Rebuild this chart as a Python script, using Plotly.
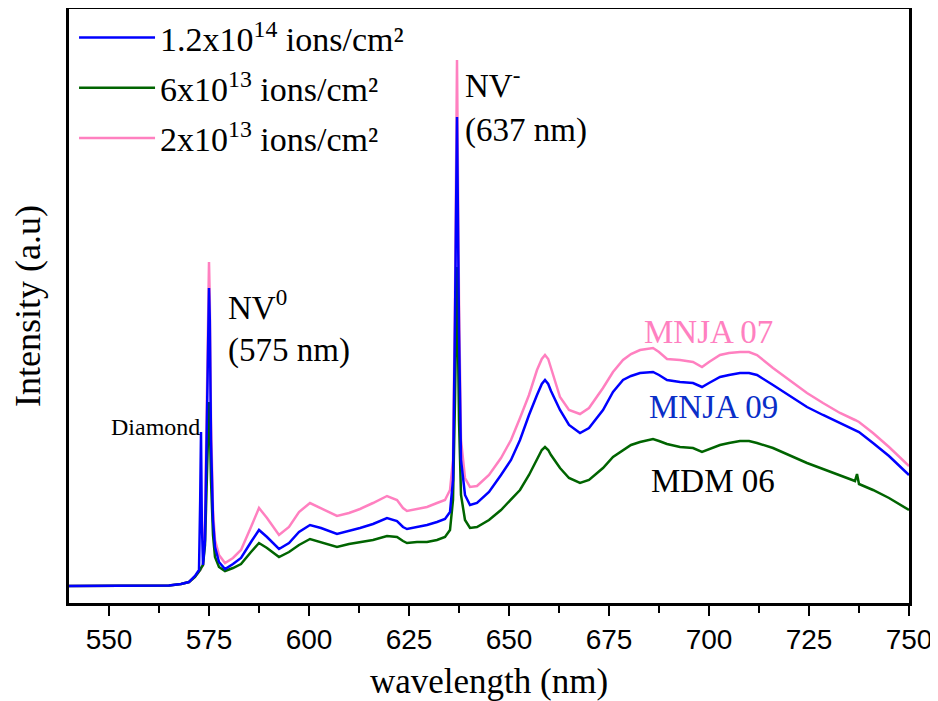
import plotly.graph_objects as go

wavelength = [540, 550, 560, 565, 568, 570, 571.5, 572.5, 572.8, 573.0, 573.2, 573.5,
              574.0, 574.5, 574.8, 575.0, 575.2, 575.5, 576.0, 576.5, 577.5, 579, 581, 583,
              585.5, 587.5, 589.5, 592.5, 595, 597.5, 600.25, 603, 607, 610, 612.75, 616,
              619.5, 622, 623.5, 624.5, 627, 629.5, 632, 634, 635.25, 636.0, 636.5, 637.0,
              637.5, 638.0, 639, 640.25, 642, 645, 648, 650.5, 652.75, 655, 657, 658.2, 659,
              659.8, 660.5, 661.5, 662.75, 665, 667.75, 670, 673.5, 676, 678.5, 680.5, 682.75,
              686, 687.5, 689.5, 692.75, 696, 698.25, 700, 702.75, 705, 707.75, 710, 712, 716,
              720, 724.5, 728.5, 732.75, 736.5, 737, 737.5, 741, 745, 750]

pink_2e13 = [17, 17, 17, 17.5, 19, 21, 26, 31, 33, 34, 36, 38,
             83, 223, 303, 341, 303, 183, 93, 63, 48, 40, 45, 53,
             76, 95, 85, 68, 76, 91, 100, 95, 87, 90, 94, 100,
             107, 103, 95, 92, 94, 96, 100, 103, 113, 143, 303, 543,
             303, 163, 125, 116, 117, 128, 145, 163, 185, 208, 233, 244, 248,
             244, 235, 222, 206, 193, 189, 195, 215, 231, 243, 249, 253,
             255, 251, 244, 243, 241, 236, 241, 248, 250, 251, 251, 248, 235,
             223, 210, 200, 190, 183, 182, 181, 170, 156, 137]

blue_12e14 = [17, 17, 17, 17.5, 19, 21, 27, 33, 103, 171, 83, 38,
              63, 203, 283, 315, 283, 163, 83, 56, 41, 34, 39, 45,
              61, 73, 66, 54, 60, 71, 78, 75, 69, 72, 75, 79,
              85, 82, 76, 74, 76, 78, 81, 84, 91, 123, 283, 486,
              273, 143, 108, 98, 100, 111, 128, 143, 163, 188, 208, 219, 223,
              219, 212, 203, 193, 178, 170, 175, 193, 211, 223, 227, 230,
              231, 228, 223, 221, 220, 216, 220, 226, 228, 230, 230, 228, 218,
              208, 196, 188, 180, 173, 172, 171, 160, 147, 128]

green_6e13 = [17, 17, 17, 17.5, 19, 21, 26, 31, 33, 35, 37, 38,
              58, 133, 183, 201, 183, 123, 68, 46, 36, 32, 35, 39,
              51, 60, 55, 46, 51, 58, 64, 61, 56, 59, 61, 63,
              67, 66, 62, 60, 61, 61, 63, 66, 73, 103, 203, 336,
              183, 108, 83, 75, 76, 83, 93, 103, 113, 128, 143, 153, 156,
              153, 148, 142, 135, 125, 120, 123, 135, 146, 153, 158, 161,
              164, 162, 159, 156, 155, 151, 154, 158, 160, 162, 162, 160, 155,
              148, 140, 134, 128, 122, 129, 119, 113, 105, 93]

series_names = ["1.2x10<sup>14</sup> ions/cm²", "6x10<sup>13</sup> ions/cm²", "2x10<sup>13</sup> ions/cm²"]
x_ticks = [550, 575, 600, 625, 650, 675, 700, 725, 750]

SERIF = "Liberation Serif, Times New Roman, serif"
SANS = "Liberation Sans, Arial, sans-serif"

fig = go.Figure()
fig.add_trace(go.Scatter(x=wavelength, y=pink_2e13, mode="lines", name=series_names[2],
                         legendgroup="c", line=dict(color="#FF80C0", width=2.5), legendrank=3))
fig.add_trace(go.Scatter(x=wavelength, y=green_6e13, mode="lines", name=series_names[1],
                         legendgroup="b", line=dict(color="#006400", width=2.5), legendrank=2))
fig.add_trace(go.Scatter(x=wavelength, y=blue_12e14, mode="lines", name=series_names[0],
                         legendgroup="a", line=dict(color="#0000FF", width=2.5), legendrank=1))

ann_font = dict(family=SERIF, size=33, color="black")
annotations = [
    dict(x=561.5, y=176, text="Diamond", font=dict(family=SERIF, size=24, color="black"),
         xanchor="center", yanchor="middle"),
    dict(x=579.2, y=298, text="NV<sup>0</sup>", font=ann_font, xanchor="left", yanchor="middle"),
    dict(x=579.2, y=253, text="(575 nm)", font=ann_font, xanchor="left", yanchor="middle"),
    dict(x=638.5, y=520, text="NV<sup>-</sup>", font=ann_font, xanchor="left", yanchor="middle"),
    dict(x=638.5, y=473, text="(637 nm)", font=ann_font, xanchor="left", yanchor="middle"),
    dict(x=699.9, y=271, text="MNJA 07", font=dict(family=SERIF, size=33, color="#FF80C0"),
         xanchor="center", yanchor="middle"),
    dict(x=701, y=196, text="MNJA 09", font=dict(family=SERIF, size=33, color="#0A2EC8"),
         xanchor="center", yanchor="middle"),
    dict(x=701, y=122, text="MDM 06", font=dict(family=SERIF, size=33, color="black"),
         xanchor="center", yanchor="middle"),
]
for a in annotations:
    a["showarrow"] = False
    a["xref"] = "x"
    a["yref"] = "y"

fig.update_layout(
    width=930, height=693,
    margin=dict(l=61, r=29, t=1, b=98),
    paper_bgcolor="white", plot_bgcolor="white",
    showlegend=True,
    legend=dict(x=0.006, y=1.0, xanchor="left", yanchor="top",
                font=dict(family=SERIF, size=34, color="black"),
                bgcolor="rgba(0,0,0,0)", borderwidth=0,
                itemwidth=76, tracegroupgap=3,
                traceorder="grouped"),
    annotations=annotations,
    xaxis=dict(range=[540, 750], tickvals=x_ticks, ticks="outside", ticklen=10, tickwidth=2,
               tickcolor="black", showline=True, linecolor="black", linewidth=2.5, mirror=True,
               showgrid=False, zeroline=False, ticklabeloverflow="allow", automargin=False,
               tickfont=dict(family=SANS, size=28, color="black"),
               minor=dict(ticks="outside", ticklen=7, tickwidth=2, tickcolor="black", dtick=12.5,
                          tick0=537.5, showgrid=False),
               title=dict(text="wavelength (nm)", font=dict(family=SERIF, size=35, color="black"),
                          standoff=24)),
    yaxis=dict(range=[0, 594], showticklabels=False, ticks="", showline=True, linecolor="black",
               linewidth=2.5, mirror=True, showgrid=False, zeroline=False, automargin=False,
               title=dict(text="Intensity (a.u)", font=dict(family=SERIF, size=36, color="black"),
                          standoff=17)),
)

fig.write_html("out.html")
